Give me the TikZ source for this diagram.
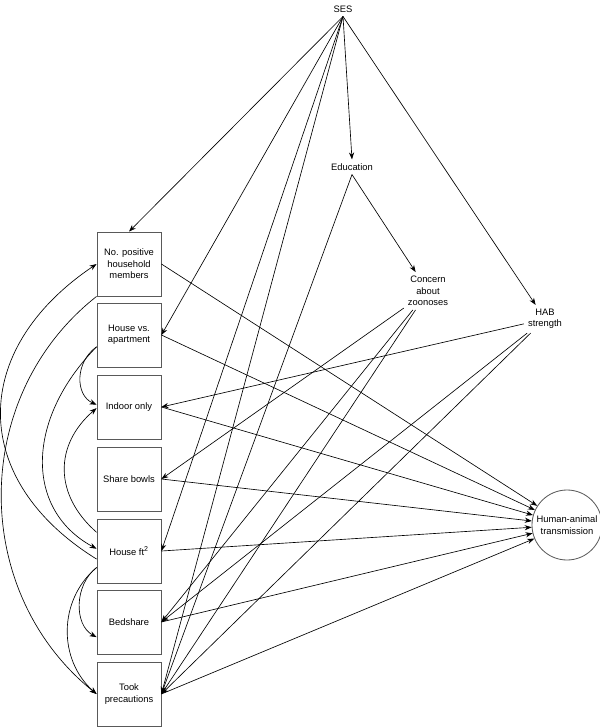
\documentclass[tikz,border=0pt]{standalone}
\usepackage{fontspec}
\setmainfont{Liberation Sans}
\usetikzlibrary{arrows.meta}

\begin{document}
\begin{tikzpicture}[x=0.03cm,y=-0.03cm,font=\fontsize{8}{9.8}\selectfont,
  box/.style={rectangle,draw=black!65,line width=0.7pt,minimum width=1.92cm,minimum height=1.92cm,align=center,inner sep=1pt},
  arr/.style={-{Stealth[length=6pt,width=4.4pt]},line width=0.55pt}]

%FRAME
\useasboundingbox (0,0) rectangle (600,727);
%FRAME

\node[](v8) at (343,9) {SES};
\node[](v9) at (352,167) {Education};
\node[align=center](v10) at (428,291) {Concern\\about\\zoonoses};
\node[align=center](v11) at (545,319) {HAB\\strength};
\node[circle,draw=black!65,line width=0.7pt,minimum size=2.1cm,align=center,inner sep=0pt](v12) at (567,525) {Human-animal\\transmission};

\node[box](v1) at (129,264) {No. positive\\household\\members};
\node[box](v2) at (129,335) {House vs.\\apartment};
\node[box](v3) at (129,407) {Indoor only};
\node[box](v4) at (129,479) {Share bowls};
\node[box](v5) at (129,551) {House ft\textsuperscript{2}};
\node[box](v6) at (129,622) {Bedshare};
\node[box](v7) at (129,694) {Took\\precautions};

\draw[arr] (v8.south) -- (v1.north);
\draw[arr] (v8.south) -- (v2.east);
\draw[arr] (v8.south) -- (v5.east);
\draw[arr] (v8.south) -- (v7.east);
\draw[arr] (v8.south) -- (v9.north);
\draw[arr] (v8.south) -- (v11);

\draw[arr] (v9.south) -- (v10);
\draw[arr] (v9.south) -- (v7.east);

\draw[arr] (v10) -- (v4.east);
\draw[arr] (v10) -- (v6.east);
\draw[arr] (v10) -- (v7.east);

\draw[arr] (v11) -- (v3.east);
\draw[arr] (v11) -- (v6.east);
\draw[arr] (v11) -- (v7.east);

\draw[arr] (v1.east) -- (v12);
\draw[arr] (v2.east) -- (v12);
\draw[arr] (v3.east) -- (v12);
\draw[arr] (v4.east) -- (v12);
\draw[arr] (v5.east) -- (v12);
\draw[arr] (v6.east) -- (v12);
\draw[arr] (v7.east) -- (v12);

%CURVES
\draw[arr] (v1.south west) .. controls (-30,396) and (-30,592) .. (v7.west);
\draw[arr] (v5.194) .. controls (-31,480) and (-31,350) .. (v1.west);
\draw[arr] (v2.200) .. controls (75,362) and (75,395) .. (v3.176);
\draw[arr] (v2.200) .. controls (25,420) and (25,510) .. (v5.176);
\draw[arr] (v5.150) .. controls (54,495) and (54,445) .. (v3.182);
\draw[arr] (v5.207) .. controls (74,585) and (74,625) .. (v6.205);
\draw[arr] (v5.207) .. controls (58,600) and (58,660) .. (v7.west);

\end{tikzpicture}
\end{document}
